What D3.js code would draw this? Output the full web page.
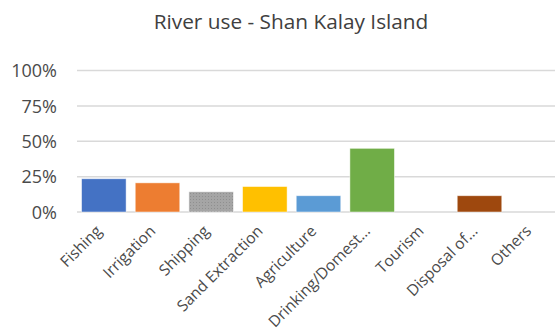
<!DOCTYPE html>
<html><head><meta charset="utf-8">
<script src="https://cdn.jsdelivr.net/npm/d3@7"></script>
<style>body{margin:0;background:#fff}svg{display:block}</style>
</head><body>
<svg id="c" width="555" height="329"></svg>
<script>
const title = "River use - Shan Kalay Island";
const categories = ["Fishing","Irrigation","Shipping","Sand Extraction","Agriculture","Drinking/Domest…","Tourism","Disposal of…","Others"];
const values = [23.5, 20.6, 14.3, 18, 11.5, 45, 0, 11.5, 0];
const colors = ["#4472C4","#ED7D31","#A5A5A5","#FFC000","#5B9BD5","#70AD47","#264478","#9E480E","#636363"];
const yTicks = [0, 25, 50, 75, 100];

const svg = d3.select("#c");
const font = "'Open Sans', sans-serif";
const x = d3.scaleBand().domain(categories).range([77, 560]).paddingInner(0.17).paddingOuter(0.085);
const y = d3.scaleLinear().domain([0, 100]).range([212, 70.5]);

const defs = svg.append("defs");
const pat = defs.append("pattern").attr("id","dots").attr("width",3).attr("height",3).attr("patternUnits","userSpaceOnUse");
pat.append("rect").attr("width",3).attr("height",3).attr("fill","#A5A5A5");
pat.append("rect").attr("x",1).attr("y",1).attr("width",1).attr("height",1).attr("fill","#8f8f8f");

svg.append("text").attr("x", 291).attr("y", 29).attr("text-anchor","middle")
  .attr("font-family", font).attr("font-size", 20.8).attr("fill","#404040").text(title);

const yAxis = d3.axisLeft(y).tickValues(yTicks).tickFormat(d => d + "%").tickSize(0).tickPadding(0);
const gy = svg.append("g").attr("transform","translate(57,0)").call(yAxis);
gy.select(".domain").remove();
gy.selectAll("text").attr("font-family", font).attr("font-size", 18).attr("fill","#4a4a4a").attr("dy","0.35em");

svg.append("g").selectAll("line").data(yTicks).join("line")
  .attr("x1", 77).attr("x2", 555).attr("y1", d => y(d)).attr("y2", d => y(d))
  .attr("stroke","#d9d9d9").attr("stroke-width",1.5);

svg.append("g").selectAll("rect").data(categories).join("rect")
  .attr("x", d => x(d)).attr("width", x.bandwidth())
  .attr("y", (d,i) => y(values[i])).attr("height", (d,i) => y(0) - y(values[i]))
  .attr("fill", (d,i) => i === 2 ? "url(#dots)" : colors[i])
  .attr("stroke", "#fff").attr("stroke-width", 0.8).attr("stroke-opacity", 0.6);

const xAxis = d3.axisBottom(x).tickSize(0).tickPadding(0);
const gx = svg.append("g").attr("transform","translate(0,212)").call(xAxis);
gx.select(".domain").remove();
gx.selectAll("text").attr("font-family", font).attr("font-size", 15.6).attr("fill","#4a4a4a")
  .attr("text-anchor","end").attr("dy", 0).attr("y", 0)
  .attr("transform","translate(-1,20) rotate(-45)");
</script>
</body></html>
